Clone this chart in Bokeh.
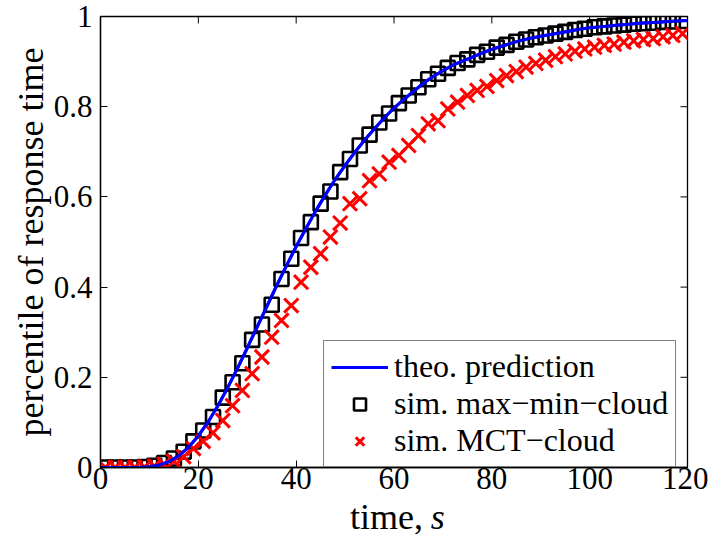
from bokeh.plotting import figure
from bokeh.layouts import column
from bokeh.models import FixedTicker, LinearAxis, Legend, LegendItem, ColumnDataSource
from bokeh.core.properties import value
from bokeh.embed import file_html
from bokeh.resources import INLINE

# ---- data ----
theo_t = [0, 2, 4, 6, 8, 10, 12, 14, 16, 18, 20, 22, 24, 26, 28, 30, 32, 34, 36, 38,
          40, 42, 44, 46, 48, 50, 52, 54, 56, 58, 60, 62, 64, 66, 68, 70, 72, 74, 76, 78,
          80, 82, 84, 86, 88, 90, 92, 94, 96, 98, 100, 102, 104, 106, 108, 110, 112, 114,
          116, 118, 120]
theo_p = [0, 0, 0, 0, 0.0003, 0.0017, 0.0055, 0.013, 0.026, 0.045, 0.070, 0.101, 0.137,
          0.177, 0.220, 0.265, 0.311, 0.357, 0.403, 0.447, 0.490, 0.530, 0.569, 0.605,
          0.639, 0.670, 0.699, 0.726, 0.751, 0.775, 0.797, 0.816, 0.834, 0.852, 0.867,
          0.880, 0.892, 0.901, 0.910, 0.919, 0.927, 0.934, 0.941, 0.947, 0.952, 0.956,
          0.960, 0.964, 0.968, 0.972, 0.975, 0.977, 0.979, 0.981, 0.983, 0.985, 0.986,
          0.987, 0.989, 0.990, 0.991]

sim_t = [1, 3, 5, 7, 9, 11, 13, 15, 17, 19, 21, 23, 25, 27, 29, 31, 33, 35, 37, 39,
         41, 43, 45, 47, 49, 51, 53, 55, 57, 59, 61, 63, 65, 67, 69, 71, 73, 75, 77, 79,
         81, 83, 85, 87, 89, 91, 93, 95, 97, 99, 101, 103, 105, 107, 109, 111, 113, 115,
         117, 119]
maxmin_p = [0, 0, 0, 0, 0.001, 0.004, 0.010, 0.020, 0.035, 0.058, 0.082, 0.112, 0.155,
            0.189, 0.231, 0.283, 0.317, 0.361, 0.418, 0.463, 0.509, 0.544, 0.585, 0.612,
            0.655, 0.684, 0.714, 0.738, 0.765, 0.785, 0.808, 0.825, 0.843, 0.861, 0.873,
            0.886, 0.897, 0.905, 0.915, 0.922, 0.931, 0.937, 0.944, 0.949, 0.954, 0.958,
            0.962, 0.966, 0.970, 0.973, 0.976, 0.978, 0.980, 0.982, 0.984, 0.985, 0.986,
            0.988, 0.989, 0.990]
mct_p = [0, 0, 0, 0, 0.001, 0.003, 0.007, 0.014, 0.024, 0.042, 0.058, 0.077, 0.104,
         0.137, 0.171, 0.208, 0.245, 0.289, 0.326, 0.359, 0.411, 0.444, 0.474, 0.511,
         0.542, 0.585, 0.596, 0.636, 0.651, 0.677, 0.692, 0.714, 0.736, 0.762, 0.769,
         0.795, 0.810, 0.825, 0.836, 0.845, 0.858, 0.869, 0.878, 0.888, 0.896, 0.903,
         0.911, 0.917, 0.923, 0.928, 0.932, 0.936, 0.939, 0.943, 0.946, 0.949, 0.951,
         0.955, 0.958, 0.962]

x_ticks = [0, 20, 40, 60, 80, 100, 120]
y_ticks = [0, 0.2, 0.4, 0.6, 0.8, 1]
y_tick_labels = ["0", "0.2", "0.4", "0.6", "0.8", "1"]
x_label_main = "time,"
x_label_var = "s"
y_label = "percentile of response time"

FONT = "Liberation Serif"
TICK_FS = "31px"
LABEL_FS = "36px"

p = figure(width=708, height=500, x_range=(0, 120), y_range=(0, 1),
           output_backend="svg", toolbar_location=None,
           min_border_left=100, min_border_right=21, min_border_top=16,
           min_border_bottom=33,
           x_axis_location=None, y_axis_location=None)
p.grid.visible = False
p.outline_line_color = "black"
p.outline_line_width = 1.3
p.background_fill_color = "white"
p.border_fill_color = "white"


def style_axis(ax):
    ax.major_tick_in = 7
    ax.major_tick_out = 0
    ax.minor_tick_line_color = None
    ax.axis_line_color = "black"
    ax.axis_line_width = 1.3
    ax.major_tick_line_color = "black"
    ax.major_tick_line_width = 1
    ax.major_label_text_font = FONT
    ax.major_label_text_font_size = TICK_FS
    ax.major_label_text_color = "black"


xb = LinearAxis(ticker=FixedTicker(ticks=x_ticks))
style_axis(xb)
xb.major_label_standoff = 0
p.add_layout(xb, "below")

yl = LinearAxis(ticker=FixedTicker(ticks=y_ticks), axis_label=y_label)
style_axis(yl)
yl.major_label_standoff = 8
yl.major_label_overrides = {t: s for t, s in zip(y_ticks, y_tick_labels)}
yl.axis_label_text_font = FONT
yl.axis_label_text_font_size = LABEL_FS
yl.axis_label_text_font_style = "normal"
yl.axis_label_text_color = "black"
yl.axis_label_standoff = 0
p.add_layout(yl, "left")

# inward ticks on the top and right edges (half of each dash is clipped by the frame)
p.scatter(x=x_ticks, y=[1] * len(x_ticks), marker="dash", angle=1.5708, size=14,
          line_color="black", line_width=1)
p.scatter(x=[120] * len(y_ticks), y=y_ticks, marker="dash", size=14,
          line_color="black", line_width=1)

theo_src = ColumnDataSource(dict(t=theo_t, p=theo_p))
sim_src = ColumnDataSource(dict(t=sim_t, a=maxmin_p, b=mct_p))

r_line = p.line("t", "p", source=theo_src, line_color="#0000ff", line_width=3)
r_sq = p.scatter("t", "a", source=sim_src, marker="square", size=14,
                 fill_color=None, line_color="black", line_width=2.6)
r_x = p.scatter("t", "b", source=sim_src, marker="x", size=20,
                line_color="#ff0000", line_width=3)
p.line("t", "p", source=theo_src, line_color="#0000ff", line_width=3)

legend = Legend(items=[
    LegendItem(label="theo. prediction", renderers=[r_line]),
    LegendItem(label="sim. max\u2212min\u2212cloud", renderers=[r_sq]),
    LegendItem(label="sim. MCT\u2212cloud", renderers=[r_x]),
], location=(223, 0))
legend.label_text_font = FONT
legend.label_text_font_size = "32px"
legend.label_text_color = "black"
legend.glyph_width = 57
legend.glyph_height = 30
legend.label_height = 30
legend.label_standoff = 6
legend.padding = 7
legend.spacing = 0
legend.margin = 0
legend.border_line_color = "black"
legend.border_line_width = 1.3
legend.background_fill_color = "white"
legend.background_fill_alpha = 1
p.add_layout(legend)

# strip below the plot that carries the x-axis title "time, s" (s in italics);
# its frame is aligned with the main frame, so it shares the time scale
p2 = figure(width=708, height=44, x_range=(0, 120), y_range=(0, 44),
            output_backend="svg", toolbar_location=None,
            min_border=0, x_axis_location=None, y_axis_location=None)
p2.grid.visible = False
p2.outline_line_color = None
p2.background_fill_color = "white"
p2.border_fill_color = "white"
p2.text(x=[51.0], y=[28], text=[x_label_main], text_align="left",
        text_baseline="alphabetic", text_font=value(FONT), text_font_size=LABEL_FS,
        text_color="black")
p2.text(x=[67.5], y=[28], text=[x_label_var], text_align="left",
        text_baseline="alphabetic", text_font=value(FONT), text_font_size=LABEL_FS,
        text_font_style="italic", text_color="black")

layout = column(p, p2, spacing=0)
open("out.html", "w").write(file_html(layout, INLINE))
